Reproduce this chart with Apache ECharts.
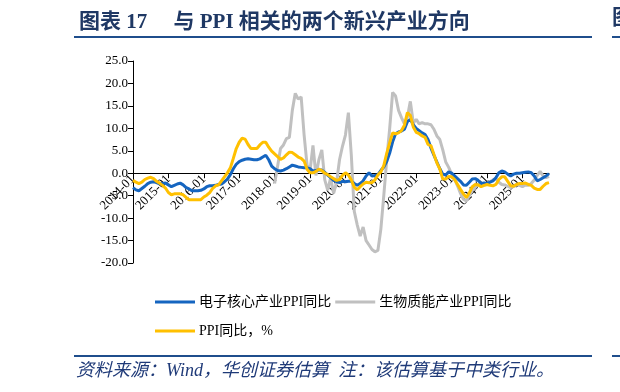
<!DOCTYPE html>
<html><head><meta charset="utf-8">
<script src="https://cdn.jsdelivr.net/npm/echarts@6/dist/echarts.min.js"></script>
<style>html,body{margin:0;padding:0;background:#fff}#c{width:620px;height:392px}</style>
</head><body><div id="c"></div>
<script>
// months 2014-01 .. 2025-10
const months = [];
for (let y = 2014; y <= 2025; y++) for (let m = 1; m <= 12; m++) { if (y === 2025 && m > 10) break; months.push(y + '-' + String(m).padStart(2, '0')); }

const yTicks = [-20, -15, -10, -5, 0, 5, 10, 15, 20, 25];

const electronics = [
 -3.2,-3.7,-3.9,-3.4,-2.9,-2.3,-2.0,-1.9,-2.1,-2.4,-2.3,-2.2,
 -2.6,-3.0,-2.7,-2.4,-2.2,-2.6,-3.2,-3.5,-3.9,-3.9,-3.9,-3.8,
 -3.5,-3.0,-2.8,-2.8,-2.7,-2.5,-2.4,-1.9,-1.3,-0.3,1.0,2.0,
 2.6,2.9,3.1,3.2,3.1,3.0,3.0,3.2,3.6,4.0,3.0,1.6,
 1.0,0.6,0.5,0.7,1.0,1.4,1.8,1.6,1.4,1.3,1.2,1.2,
 1.0,0.5,0.6,0.7,0.7,0.2,-0.4,-1.0,-1.6,-1.9,-2.1,-1.8,
 -1.9,-1.8,-1.8,-2.3,-2.7,-2.3,-1.7,-0.6,0.1,-0.6,-0.5,-0.3,
 0.6,1.4,2.6,4.5,7.0,8.8,9.2,9.4,9.8,11.5,12.0,10.8,
 10.0,9.5,9.0,8.6,7.5,5.6,4.0,2.5,1.0,-0.2,-0.4,0.3,
 0.0,-0.6,-1.2,-1.8,-2.6,-2.7,-2.0,-1.3,-1.2,-1.6,-2.3,-2.2,
 -2.3,-2.0,-1.7,-1.0,0.1,0.5,0.3,-0.2,-0.6,-0.2,0.0,0.0,
 0.1,0.2,0.3,0.1,-0.6,-1.7,-1.4,-1.0,-0.6,-0.1
];

const biomass = [
 null,null,null,null,null,null,null,null,null,null,null,null,
 null,null,null,null,null,null,null,null,null,null,null,null,
 null,null,null,null,null,null,null,null,null,null,null,null,
 null,null,null,null,null,null,null,null,null,null,null,null,
 -2.3,1.5,5.5,6.3,7.7,8.0,14.0,17.8,16.5,17.0,8.5,1.8,
 0.5,6.2,-0.5,3.0,5.2,-1.5,-3.8,-1.0,-4.5,-2.0,3.0,6.0,
 8.5,13.5,4.0,-8.5,-11.5,-14.0,-12.0,-15.0,-16.0,-17.0,-17.5,-17.2,
 -12.5,-5.0,3.0,10.0,18.0,17.2,14.0,12.4,11.0,12.5,16.0,11.2,
 12.0,11.0,11.3,11.0,11.0,10.8,9.8,8.3,7.5,5.2,2.5,1.3,
 -0.2,-1.3,-2.8,-4.5,-5.8,-6.2,-5.0,-3.8,-3.2,-2.5,-2.4,-2.6,
 -2.5,-1.9,-1.5,-1.2,-2.0,-2.5,-2.6,-2.9,-3.2,-3.0,-2.4,-2.7,
 -3.0,-2.6,-2.7,-2.3,-1.5,-0.5,0.4,-0.6,-1.0,-0.7
];

const ppi = [
 -1.6,-2.0,-2.3,-2.0,-1.4,-1.1,-0.9,-1.2,-1.8,-2.2,-2.7,-3.3,
 -4.3,-4.8,-4.6,-4.6,-4.6,-4.8,-5.4,-5.9,-5.9,-5.9,-5.9,-5.9,
 -5.3,-4.9,-4.3,-3.4,-2.8,-2.6,-1.7,-0.8,0.1,1.2,3.3,5.5,
 6.9,7.8,7.6,6.4,5.5,5.5,5.5,6.3,6.9,6.9,5.8,4.9,
 4.3,3.7,3.1,3.4,4.1,4.7,4.6,4.1,3.6,3.3,2.7,0.9,
 0.1,0.1,0.4,0.9,0.6,0.0,-0.3,-0.8,-1.2,-1.6,-1.4,-0.5,
 0.1,-0.4,-1.5,-3.1,-3.7,-3.0,-2.4,-2.0,-2.1,-2.1,-1.5,-0.4,
 0.3,1.7,4.4,6.8,9.0,8.8,9.0,9.5,10.7,13.5,12.9,10.3,
 9.1,8.8,8.3,8.0,6.4,6.1,4.2,2.3,0.9,-1.3,-1.3,-0.7,
 -0.8,-1.4,-2.5,-3.6,-4.6,-5.4,-4.4,-3.0,-2.5,-2.6,-3.0,-2.7,
 -2.5,-2.7,-2.8,-2.5,-1.4,-0.8,-0.8,-1.8,-2.8,-2.9,-2.5,-2.3,
 -2.3,-2.2,-2.5,-2.7,-3.3,-3.6,-3.6,-2.9,-2.3,-2.1
];

const seriesNames = ['电子核心产业PPI同比', '生物质能产业PPI同比', 'PPI同比，%'];
const colors = ['#1565C0', '#C0C0C0', '#FFC000'];

const SERIF = '"Liberation Serif", "Times New Roman", "Noto Sans CJK SC", serif';
const yearTick = (i) => i % 12 === 0;

const GRID = { left: 133, right: 71, top: 61, bottom: 129 };
const plotH = 392 - GRID.top - GRID.bottom;
const yMin = yTicks[0], yMax = yTicks[yTicks.length - 1];
// place the category axis on the zero line
const zeroOffset = -((0 - yMin) / (yMax - yMin)) * plotH;

const chart = echarts.init(document.getElementById('c'), null, { renderer: 'canvas' });
chart.setOption({
  backgroundColor: '#fff',
  animation: false,
  title: {
    text: '图表 17     与 PPI 相关的两个新兴产业方向',
    left: 74, top: 7,
    textStyle: { fontFamily: SERIF, fontSize: 21, fontWeight: 'bold', color: '#1F3864' }
  },
  graphic: [
    { type: 'rect', shape: { x: 74, y: 36, width: 518, height: 2 }, style: { fill: '#1F4E8C' } },
    { type: 'rect', shape: { x: 612, y: 36, width: 8, height: 2 }, style: { fill: '#1F4E8C' } },
    { type: 'text', left: 612, top: 8, style: { text: '图', font: 'bold 21px ' + SERIF, fill: '#1F3864' } },
    { type: 'rect', shape: { x: 74, y: 355, width: 518, height: 2 }, style: { fill: '#1F4E8C' } },
    { type: 'rect', shape: { x: 612, y: 355, width: 8, height: 2 }, style: { fill: '#1F4E8C' } },
    { type: 'text', left: 76, top: 362, style: { text: '资料来源：Wind，华创证券估算  注：该估算基于中类行业。', font: 'italic 18px ' + SERIF, fill: '#1F3A78' } }
  ],
  legend: [
    { data: [seriesNames[0], seriesNames[1]], left: 150, top: 290, itemWidth: 40, itemHeight: 3, itemGap: 4, icon: 'rect',
      textStyle: { fontFamily: SERIF, fontSize: 14, color: '#000', padding: [0, 0, 0, -1] } },
    { data: [seriesNames[2]], left: 150, top: 319, itemWidth: 40, itemHeight: 3, itemGap: 4, icon: 'rect',
      textStyle: { fontFamily: SERIF, fontSize: 14, color: '#000', padding: [0, 0, 0, -1] } }
  ],
  grid: { left: GRID.left, right: GRID.right, top: GRID.top, bottom: GRID.bottom, containLabel: false },
  xAxis: {
    type: 'category', data: months, boundaryGap: false, offset: zeroOffset,
    axisLine: { onZero: false, lineStyle: { color: '#000', width: 1 } },
    axisTick: { interval: (i) => yearTick(i), length: 5, lineStyle: { color: '#000' } },
    axisLabel: { interval: (i) => yearTick(i), rotate: 45, fontFamily: SERIF, fontSize: 13, color: '#000', margin: 4 },
    splitLine: { show: false }
  },
  yAxis: {
    type: 'value', min: yMin, max: yMax, interval: 5,
    axisLine: { show: true, lineStyle: { color: '#000' } },
    axisTick: { show: true, length: 5, lineStyle: { color: '#000' } },
    axisLabel: { formatter: (v) => v.toFixed(1), fontFamily: SERIF, fontSize: 13, color: '#000', margin: 5 },
    splitLine: { show: false }
  },
  series: [
    { name: seriesNames[1], type: 'line', data: biomass, symbol: 'none', connectNulls: false,
      lineStyle: { color: colors[1], width: 3 }, itemStyle: { color: colors[1] }, z: 2 },
    { name: seriesNames[0], type: 'line', data: electronics, symbol: 'none',
      lineStyle: { color: colors[0], width: 3 }, itemStyle: { color: colors[0] }, z: 3 },
    { name: seriesNames[2], type: 'line', data: ppi, symbol: 'none',
      lineStyle: { color: colors[2], width: 3 }, itemStyle: { color: colors[2] }, z: 4 }
  ]
});
</script></body></html>
